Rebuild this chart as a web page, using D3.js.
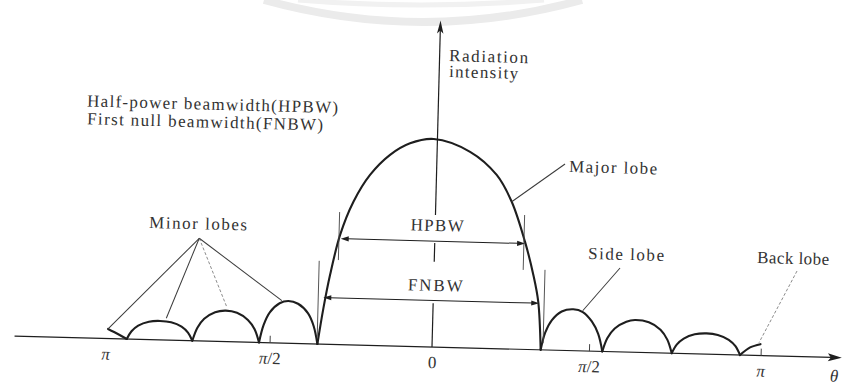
<!DOCTYPE html>
<html>
<head>
<meta charset="utf-8">
<script src="https://cdn.jsdelivr.net/npm/d3@7"></script>
<style>
html,body{margin:0;padding:0;background:#ffffff;}
svg{display:block;}
text{font-family:"Liberation Serif","Times New Roman",serif;fill:#333333;}
</style>
</head>
<body>
<svg id="chart" width="850" height="389"></svg>
<script>
// ---------------- DATA (θ in degrees, intensity normalised to main-lobe peak) ----------------
const tickValues = [-180, -90, 0, 90, 180];
const tickLabels = ["π", "π/2", "0", "π/2", "π"];

const leftBackLobe = [[-168.4,0],[-173.1,0.022],[-178.8,0.046]];
const minorLobeLeft3 = [[-168.4,0],[-165.9,0.038],[-162.3,0.066],[-156.5,0.086],[-150.4,0.091],[-144.3,0.086],[-138.5,0.066],[-134.9,0.038],[-132.4,0]];
const minorLobeLeft2 = [[-132.4,0],[-129.8,0.063],[-126.2,0.107],[-120.3,0.14],[-114.5,0.149],[-108.3,0.14],[-102.2,0.107],[-98.4,0.063],[-95.8,0]];
const minorLobeLeft1 = [[-95.8,0],[-93.5,0.085],[-90.3,0.146],[-85,0.191],[-80.2,0.203],[-74.8,0.191],[-69.1,0.146],[-65.8,0.085],[-63.5,0]];
const mainLobe = [[-63.5,0],[-60.7,0.172],[-57.5,0.333],[-52.5,0.527],[-45.6,0.688],[-36.8,0.819],[-26,0.918],[-15.1,0.976],[-2,1.0],[18.9,0.943],[34.5,0.835],[43.5,0.708],[51.7,0.518],[57,0.359],[60.2,0.231],[62.3,0]];
const sideLobeRight1 = [[62.3,0],[64.7,0.084],[68.2,0.143],[73.8,0.187],[80.4,0.199],[85.9,0.187],[91.1,0.143],[94.6,0.084],[97,0]];
const minorLobeRight2 = [[97,0],[99.5,0.065],[103.2,0.112],[109.2,0.146],[113.7,0.155],[121,0.146],[127.2,0.112],[130.9,0.065],[133.4,0]];
const minorLobeRight3 = [[133.4,0],[135.9,0.042],[139.5,0.072],[145.2,0.094],[151.4,0.1],[157.3,0.094],[163.1,0.072],[166.7,0.042],[169.2,0]];
const rightBackLobe = [[169.2,0],[174.4,0.038],[179.8,0.055]];

const hpbw = {level: 0.509, from: -52.1, to: 51.8};
const fnbw = {level: 0.224, from: -60.9, to: 60.8};

// ---------------- LAYOUT ----------------
const svg = d3.select("#chart");
const ink = "#1e1e1e";

// faint watermark arcs from the scan
const wm = svg.append("g").attr("fill","none");
const p1 = d3.path(); p1.moveTo(264,0); p1.quadraticCurveTo(423,44,582,0);
const p2 = d3.path(); p2.moveTo(298,0); p2.quadraticCurveTo(421,10,544,0);
wm.append("path").attr("d",p1.toString()).attr("stroke","#ebebeb").attr("stroke-width",8);
wm.append("path").attr("d",p2.toString()).attr("stroke","#f1f1f1").attr("stroke-width",5);

// whole drawing slightly rotated like the scan
const g = svg.append("g").attr("transform","translate(432,347) rotate(1.5)");

const x = d3.scaleLinear().domain(tickValues).range([-326.5,-162.5,0,157,328.7]);
const y = d3.scaleLinear().domain([0,1]).range([0,-208]);

const line = d3.line().x(d=>x(d[0])).y(d=>y(d[1])).curve(d3.curveCatmullRom.alpha(0.5));

// horizontal axis line + arrow
const xAxisExtent = [-230, 222.6];
const xTip = x(xAxisExtent[1]);
g.append("line").attr("x1",x(xAxisExtent[0])).attr("y1",0).attr("x2",xTip-10).attr("y2",0)
  .attr("stroke",ink).attr("stroke-width",1.2);
g.append("path").attr("d",`M${xTip},0 L${xTip-14},-4 L${xTip-11},0 L${xTip-14},4 Z`).attr("fill",ink);

// tick marks and labels via d3 axis
const axis = d3.axisBottom(x).tickValues(tickValues).tickFormat((d,i)=>tickLabels[i])
  .tickSizeInner(-7).tickSizeOuter(0).tickPadding(9);
const ax = g.append("g").call(axis);
ax.attr("font-family",null).attr("font-size",null);
ax.select(".domain").remove();
ax.selectAll(".tick line").filter(d=>d===0||d===-180).remove();
ax.selectAll(".tick line").attr("stroke","#444").attr("stroke-width",1);
ax.selectAll(".tick text").attr("font-size",17).attr("fill","#333").each(function(d,i){
  const t = d3.select(this); const lab = tickLabels[i];
  if (lab.indexOf("π")===0){
    t.text(null);
    t.append("tspan").attr("font-style","italic").text("π");
    if (lab.length>1) t.append("tspan").text(lab.slice(1));
  }
});

// θ label
g.append("text").attr("x",402.8).attr("y",24.2).attr("text-anchor","middle")
  .attr("font-size",17).attr("font-style","italic").text("θ");

// vertical axis (broken around HPBW/FNBW labels) + arrow
const yTop = 1.57;
const vSegments = [[0,0.21],[0.41,0.50],[0.635,yTop-0.04]];
vSegments.forEach(s=>{
  g.append("line").attr("x1",0).attr("x2",0).attr("y1",y(s[0])).attr("y2",y(s[1]))
    .attr("stroke",ink).attr("stroke-width",1.2);
});
const yt = y(yTop);
g.append("path").attr("d",`M0,${yt} L-3.2,${yt+13} L0,${yt+10} L3.2,${yt+13} Z`).attr("fill",ink);

// lobes
const lobes = [leftBackLobe,minorLobeLeft3,minorLobeLeft2,minorLobeLeft1,mainLobe,
               sideLobeRight1,minorLobeRight2,minorLobeRight3,rightBackLobe];
g.selectAll("path.lobe").data(lobes).join("path").attr("class","lobe")
  .attr("d",line).attr("fill","none").attr("stroke",ink).attr("stroke-width",2.1)
  .attr("stroke-linejoin","round").attr("stroke-linecap","round");

// width markers
function arrowHead(px,py,dir){
  g.append("path").attr("d",`M${px},${py} L${px-dir*8},${py-2.6} L${px-dir*8},${py+2.6} Z`).attr("fill",ink);
}
[hpbw,fnbw].forEach(b=>{
  const x1=x(b.from), x2=x(b.to), yy=y(b.level);
  g.append("line").attr("x1",x1+6).attr("x2",x2-6).attr("y1",yy).attr("y2",yy)
    .attr("stroke",ink).attr("stroke-width",1);
  arrowHead(x1,yy,-1); arrowHead(x2,yy,1);
});
const markerTicks = [[-53.1,0.406,0.637],[51.1,0.382,0.646],[-63.7,0.035,0.40],[63.6,0.032,0.385]];
markerTicks.forEach(m=>{
  g.append("line").attr("x1",x(m[0])).attr("x2",x(m[0])).attr("y1",y(m[1])).attr("y2",y(m[2]))
    .attr("stroke","#444").attr("stroke-width",0.9);
});

// leader lines
function leader(p0, target, dashed){
  g.append("line").attr("x1",p0[0]).attr("y1",p0[1]).attr("x2",x(target[0])).attr("y2",y(target[1]))
    .attr("stroke",dashed?"#808080":"#3a3a3a").attr("stroke-width",dashed?0.9:1)
    .attr("stroke-dasharray",dashed?"3,2":null);
}
leader([128.2,-186.4],[43.5,0.708],false);
leader([185.9,-83.9],[85.8,0.193],false);
leader([362.9,-85.5],[179,0.062],true);
const apex=[-235.5,-102.6];
leader(apex,[-178.8,0.046],false);
leader(apex,[-147,0.105],false);
leader(apex,[-114,0.167],true);
leader(apex,[-83.8,0.204],false);

// texts
const labels = [
  {t:"Radiation", x:9.5, y:-286.3, w:79},
  {t:"intensity", x:9.9, y:-270.3, w:69},
  {t:"Half-power beamwidth(HPBW)", x:-351.2, y:-231.4, w:251},
  {t:"First null beamwidth(FNBW)", x:-350.7, y:-213.6, w:236},
  {t:"Minor lobes", x:-286, y:-111.6, w:98},
  {t:"Major lobe", x:132.4, y:-178.5, w:88},
  {t:"Side lobe", x:153.6, y:-92.1, w:76},
  {t:"Back lobe", x:322.7, y:-92.5, w:72},
  {t:"HPBW", x:2-26.5, y:-116.1, w:53},
  {t:"FNBW", x:1.7-27.5, y:-56.1, w:55}
];
labels.forEach(l=>{
  g.append("text").attr("x",l.x).attr("y",l.y).attr("font-size",17)
    .attr("textLength",l.w).attr("lengthAdjust","spacing").text(l.t);
});
</script>
</body>
</html>
